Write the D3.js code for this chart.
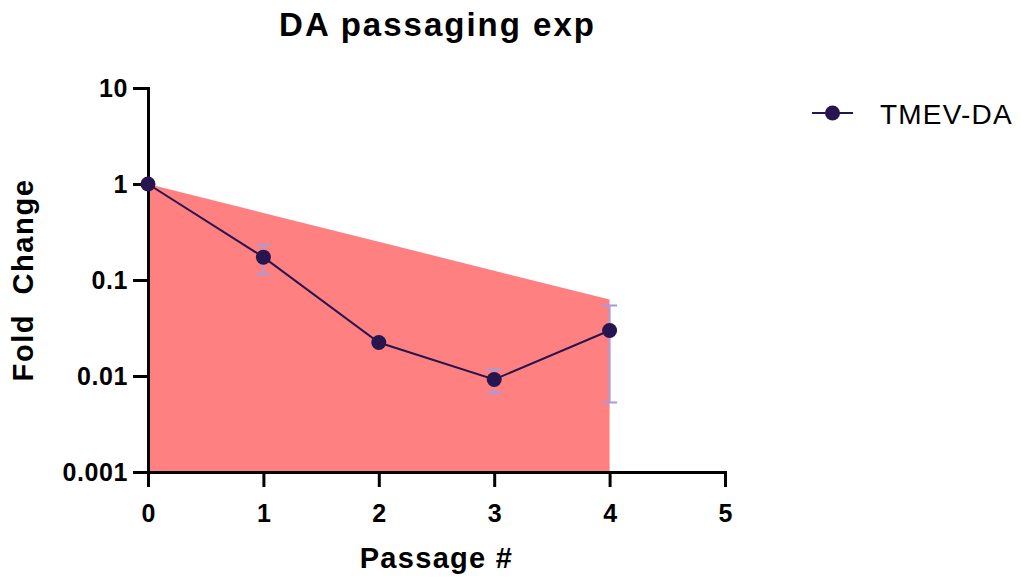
<!DOCTYPE html>
<html>
<head>
<meta charset="utf-8">
<script src="https://cdn.jsdelivr.net/npm/d3@7/dist/d3.min.js"></script>
<style>
  html, body { margin: 0; padding: 0; background: #fff; }
  svg { display: block; font-family: "Liberation Sans", Arial, sans-serif; }
</style>
</head>
<body>
<svg id="chart" width="1021" height="581"></svg>
<script>
// Passage number for each measurement
const passages = [0, 1, 2, 3, 4];
// Mean fold change of TMEV-DA at each passage
const foldChange = [1, 0.173, 0.0223, 0.0092, 0.0298];
// Standard deviation at each passage
const foldSD = [0, 0.058, 0, 0.0026, 0.0245];
// Expected two-fold dilution per passage (shaded region)
const dilution = [1, 0.5, 0.25, 0.125, 0.0625];

const xTicks = [0, 1, 2, 3, 4, 5];
const yTicks = [0.001, 0.01, 0.1, 1, 10];
const yTickLabels = ["0.001", "0.01", "0.1", "1", "10"];

const seriesName = "TMEV-DA";
const chartTitle = "DA passaging exp";
const xTitle = "Passage #";
const yTitle = "Fold\u00a0\u00a0Change";

const fillColor = "#ff8080";
const markColor = "#26154f";
const errColor = "#a99bd8";

(function draw() {
  const svg = d3.select("#chart");
  const pL = 148, pR = 725, pT = 88, pB = 472;

  const x = d3.scaleLinear().domain([0, 5]).range([pL, pR]);
  const y = d3.scaleLog().domain([0.001, 10]).range([pB, pT]);

  // Shaded dilution area down to the axis floor
  const area = d3.area()
    .x((d, i) => x(passages[i]))
    .y0(() => y(0.001))
    .y1(d => y(d));
  svg.append("path")
    .datum(dilution)
    .attr("d", area)
    .attr("fill", fillColor);

  // Axes
  const yAxis = d3.axisLeft(y)
    .tickValues(yTicks)
    .tickFormat((d, i) => yTickLabels[i])
    .tickSize(15).tickSizeOuter(0).tickPadding(5);
  const gy = svg.append("g").attr("transform", `translate(${pL},0)`).call(yAxis);

  const xAxis = d3.axisBottom(x)
    .tickValues(xTicks)
    .tickFormat(d3.format("d"))
    .tickSize(15).tickSizeOuter(0).tickPadding(17);
  const gx = svg.append("g").attr("transform", `translate(0,${pB})`).call(xAxis);

  [gx, gy].forEach(g => {
    g.selectAll("path.domain").attr("stroke", "#000").attr("stroke-width", 3).attr("stroke-linecap", "square");
    g.selectAll(".tick line").attr("stroke", "#000").attr("stroke-width", 3);
    g.selectAll(".tick text")
      .attr("fill", "#000")
      .style("font-size", "25px")
      .style("font-weight", "bold")
      .style("font-family", "'Liberation Sans', Arial, sans-serif");
  });
  gy.selectAll(".tick text").style("letter-spacing", "0.6px");

  // Error bars
  const errs = passages.map((p, i) => ({ p, m: foldChange[i], s: foldSD[i] })).filter(d => d.s > 0);
  const eb = svg.append("g").attr("stroke", errColor).attr("stroke-width", 2).attr("fill", "none");
  errs.forEach(d => {
    const cx = x(d.p), y1 = y(d.m + d.s), y2 = y(d.m - d.s);
    eb.append("line").attr("x1", cx).attr("x2", cx).attr("y1", y1).attr("y2", y2);
    eb.append("line").attr("x1", cx - 7.5).attr("x2", cx + 7.5).attr("y1", y1).attr("y2", y1);
    eb.append("line").attr("x1", cx - 7.5).attr("x2", cx + 7.5).attr("y1", y2).attr("y2", y2);
  });

  // Mean line and markers
  const line = d3.line()
    .x((d, i) => x(passages[i]))
    .y(d => y(d));
  svg.append("path")
    .datum(foldChange)
    .attr("d", line)
    .attr("fill", "none")
    .attr("stroke", markColor)
    .attr("stroke-width", 2);

  svg.append("g").selectAll("circle")
    .data(foldChange)
    .join("circle")
    .attr("cx", (d, i) => x(passages[i]))
    .attr("cy", d => y(d))
    .attr("r", 7.5)
    .attr("fill", markColor);

  // Titles
  svg.append("text")
    .attr("x", (pL + pR) / 2 + 1).attr("y", 36)
    .attr("text-anchor", "middle")
    .style("font-size", "33px").style("font-weight", "bold")
    .style("letter-spacing", "2px")
    .text(chartTitle);

  svg.append("text")
    .attr("x", (pL + pR) / 2).attr("y", 568)
    .attr("text-anchor", "middle")
    .style("font-size", "29px").style("font-weight", "bold")
    .style("letter-spacing", "1.3px")
    .text(xTitle);

  svg.append("text")
    .attr("transform", `translate(33,${(pT + pB) / 2}) rotate(-90)`)
    .attr("text-anchor", "middle")
    .style("font-size", "29px").style("font-weight", "bold")
    .style("letter-spacing", "1.6px")
    .text(yTitle);

  // Legend
  const lg = svg.append("g").attr("transform", "translate(812,113)");
  lg.append("line").attr("x1", 0).attr("x2", 41).attr("y1", 0).attr("y2", 0)
    .attr("stroke", markColor).attr("stroke-width", 2);
  lg.append("circle").attr("cx", 20.5).attr("cy", 0).attr("r", 7.5).attr("fill", markColor);
  lg.append("text").attr("x", 68).attr("y", 10.5)
    .style("font-size", "28px")
    .style("letter-spacing", "1.2px")
    .text(seriesName);
})();
</script>
</body>
</html>
